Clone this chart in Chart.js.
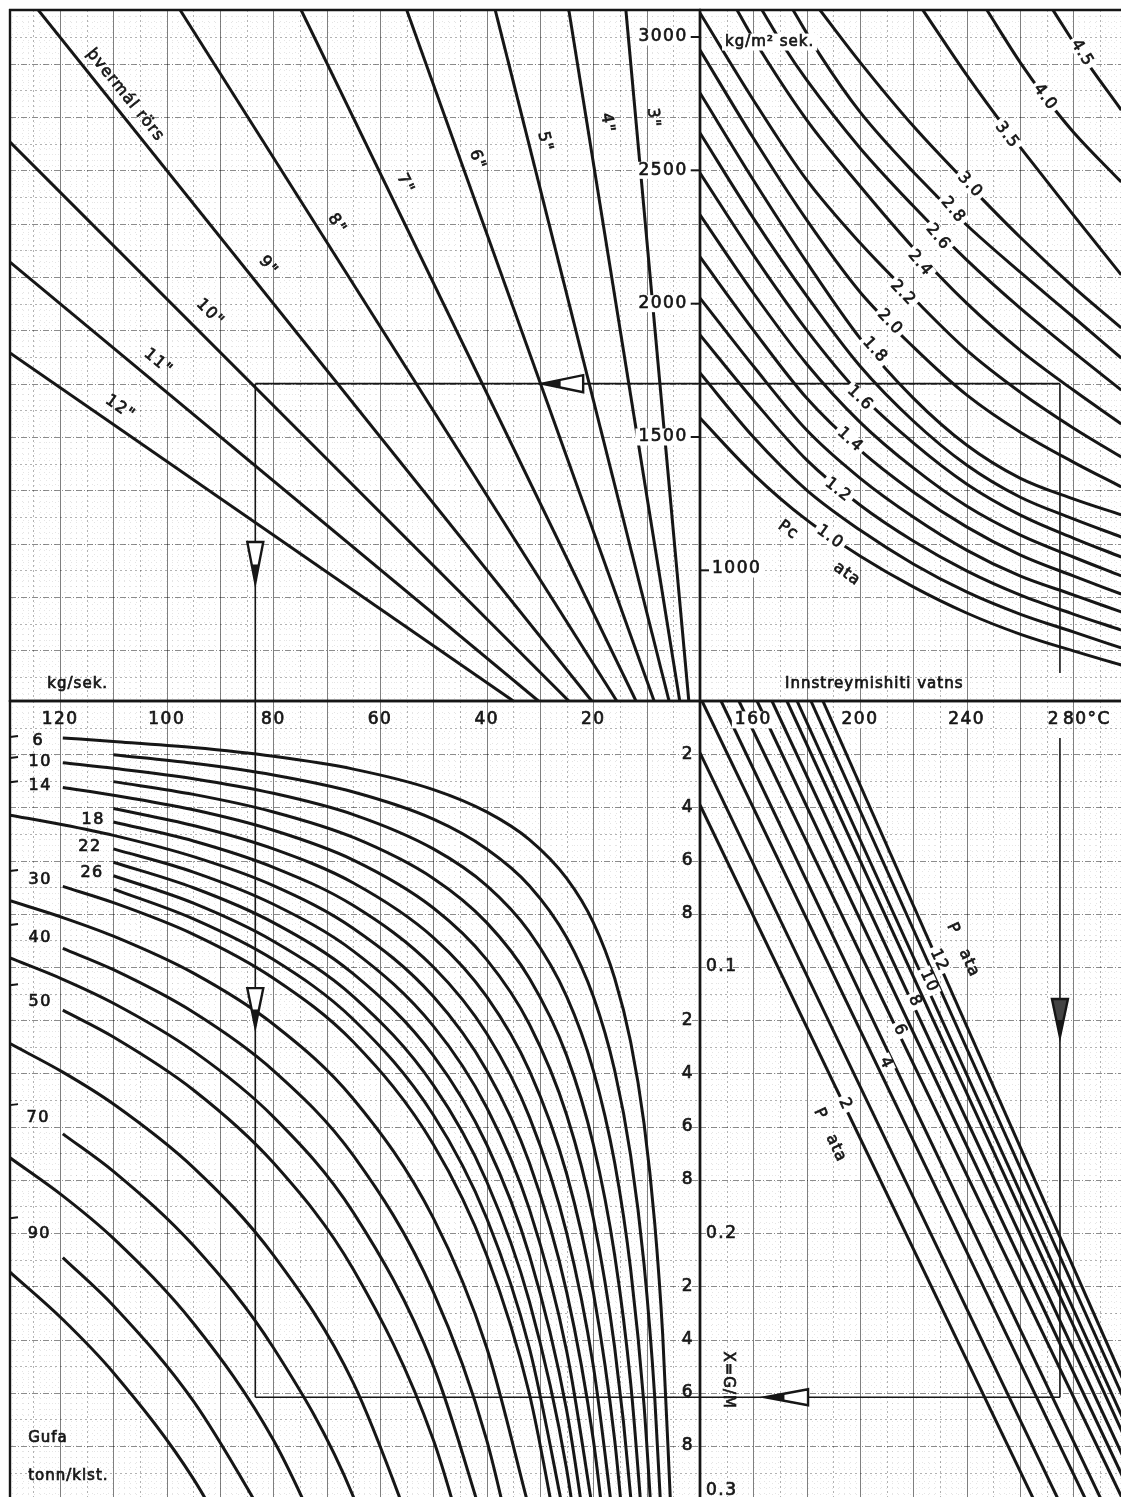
<!DOCTYPE html>
<html lang="is">
<head>
<meta charset="utf-8">
<title>Nomogram</title>
<script src="https://cdn.jsdelivr.net/npm/chart.js@4.4.1/dist/chart.umd.min.js"></script>
<style>
  html, body { margin: 0; padding: 0; background: #fff; overflow: hidden; }
  body { position: relative; width: 1121px; height: 1497px; }
  canvas { position: absolute; }
</style>
</head>
<body>
<canvas id="bl"></canvas>
<canvas id="br"></canvas>
<canvas id="tl"></canvas>
<canvas id="tr"></canvas>
<script>
const INK = '#161616';
const FONT = '17px "DejaVu Sans", sans-serif';
const PAD = 4;

// axis ticks
const flowTicks = [120, 100, 80, 60, 40, 20];            // kg/sek
const fluxTicks = [3000, 2500, 2000, 1500];              // kg/m2 sek, left of the axis
const fluxTickRight = 1000;
const tempTicks = [160, 200, 240];                       // °C
const fractionTicks = [0.02, 0.04, 0.06, 0.08, 0.12, 0.14, 0.16, 0.18, 0.22, 0.24, 0.26, 0.28];
const fractionMain = [0.1, 0.2, 0.3];

// top left: pipe diameter lines [kg/sek, kg/m2 sek]
const pipeSizes = ['12"', '11"', '10"', '9"', '8"', '7"', '6"', '5"', '4"', '3"'];
const pipeLines = [
  [[129.4, 1815], [35.0, 510]],
  [[129.4, 2156], [30.3, 510]],
  [[129.4, 2606], [24.6, 510]],
  [[124.1, 3101], [20.3, 510]],
  [[97.5, 3101], [15.6, 510]],
  [[74.8, 3101], [12.0, 510]],
  [[55.0, 3101], [8.6, 510]],
  [[38.4, 3101], [5.8, 510]],
  [[24.6, 3101], [3.8, 510]],
  [[13.9, 3101], [2.1, 510]],
];

// top right: Pc curves [°C, kg/m2 sek]
const pcValues = ['4.5', '4.0', '3.5', '3.0', '2.8', '2.6', '2.4', '2.2', '2.0', '1.8', '1.7', '1.6', '1.5', '1.4', '1.3', '1.2', '1.1', '1.0'];
const pcCurves = [
  [[272.4, 3101], [283.25, 2932], [298, 2726]],
  [[247.6, 3101], [260, 2906], [269.4, 2775], [280, 2644], [298, 2456]],
  [[223.6, 3101], [240, 2858], [255.1, 2651], [260, 2588], [280, 2333], [298, 2108]],
  [[185, 3101], [200, 2906], [220, 2666], [240, 2453], [260, 2250], [280, 2063], [298, 1909]],
  [[174.9, 3101], [185, 2933], [200, 2719], [220, 2494], [240, 2295], [260, 2119], [280, 1950], [298, 1796]],
  [[163.25, 3101], [171.1, 2970], [180, 2839], [200, 2584], [220, 2366], [240, 2164], [260, 1984], [280, 1819], [298, 1676]],
  [[153.9, 3101], [159.9, 2996], [180, 2689], [200, 2441], [220, 2209], [240, 2002], [260, 1826], [280, 1676], [298, 1549]],
  [[140, 3090], [160, 2764], [180, 2464], [200, 2228], [220, 2021], [240, 1826], [260, 1669], [280, 1534], [298, 1425]],
  [[140, 2951], [160, 2621], [180, 2314], [200, 2044], [220, 1838], [240, 1658], [260, 1519], [280, 1406], [298, 1313]],
  [[140, 2790], [160, 2464], [180, 2156], [200, 1871], [220, 1646], [240, 1470], [260, 1346], [280, 1268], [298, 1208]],
  [[140, 2640], [160, 2321], [180, 2029], [200, 1766], [220, 1560], [240, 1395], [260, 1275], [280, 1193], [298, 1125]],
  [[140, 2490], [160, 2183], [180, 1901], [200, 1661], [220, 1478], [240, 1324], [260, 1208], [280, 1121], [298, 1050]],
  [[140, 2333], [160, 2040], [180, 1774], [200, 1556], [220, 1384], [240, 1241], [260, 1133], [280, 1050], [298, 979]],
  [[140, 2175], [160, 1901], [180, 1646], [200, 1451], [220, 1294], [240, 1163], [260, 1058], [280, 979], [298, 911]],
  [[140, 2021], [160, 1766], [180, 1526], [200, 1346], [220, 1200], [240, 1076], [260, 979], [280, 908], [298, 844]],
  [[140, 1883], [160, 1639], [180, 1414], [200, 1245], [220, 1110], [240, 998], [260, 908], [280, 836], [298, 776]],
  [[140, 1740], [160, 1500], [180, 1301], [200, 1151], [220, 1024], [240, 919], [260, 836], [280, 769], [298, 709]],
  [[140, 1571], [160, 1361], [180, 1189], [200, 1054], [220, 938], [240, 840], [260, 761], [280, 698], [298, 645]],
];
const pcLabelled = ['4.5', '4.0', '3.5', '3.0', '2.8', '2.6', '2.4', '2.2', '2.0', '1.8', '1.6', '1.4', '1.2', '1.0'];

// bottom left: steam (tonn/klst) curves, X = G/M read at each flow of flowGrid
const steamRates = [6, 8, 10, 12, 14, 16, 18, 20, 22, 24, 26, 28, 30, 35, 40, 45, 50, 60, 70, 80, 90, 100];
const flowGrid = [129.4, 119.5, 110, 95, 80, 65, 50, 40, 32, 25, 20, 16, 13, 10.5, 8.5, 7, 5.5];
const steamFraction = [
  [null, 0.0139, 0.0152, 0.0175, 0.0208, 0.0256, 0.0333, 0.0417, 0.0521, 0.0667, 0.0833, 0.1042, 0.1282, 0.1587, 0.1961, 0.2381, 0.3030],
  [null, null, 0.0202, 0.0234, 0.0278, 0.0342, 0.0444, 0.0556, 0.0694, 0.0889, 0.1111, 0.1389, 0.1709, 0.2116, 0.2614, 0.3175],
  [null, 0.0232, 0.0253, 0.0292, 0.0347, 0.0427, 0.0556, 0.0694, 0.0868, 0.1111, 0.1389, 0.1736, 0.2137, 0.2646, 0.3268],
  [null, null, 0.0303, 0.0351, 0.0417, 0.0513, 0.0667, 0.0833, 0.1042, 0.1333, 0.1667, 0.2083, 0.2564, 0.3175],
  [null, 0.0325, 0.0354, 0.0409, 0.0486, 0.0598, 0.0778, 0.0972, 0.1215, 0.1556, 0.1944, 0.2431, 0.2991, 0.3704],
  [null, null, 0.0404, 0.0468, 0.0556, 0.0684, 0.0889, 0.1111, 0.1389, 0.1778, 0.2222, 0.2778, 0.3419],
  [null, null, 0.0455, 0.0526, 0.0625, 0.0769, 0.1000, 0.1250, 0.1563, 0.2000, 0.2500, 0.3125],
  [0.0429, 0.0465, 0.0505, 0.0585, 0.0694, 0.0855, 0.1111, 0.1389, 0.1736, 0.2222, 0.2778, 0.3472],
  [null, null, 0.0556, 0.0643, 0.0764, 0.0940, 0.1222, 0.1528, 0.1910, 0.2444, 0.3056],
  [null, null, 0.0606, 0.0702, 0.0833, 0.1026, 0.1333, 0.1667, 0.2083, 0.2667, 0.3333],
  [null, null, 0.0657, 0.0760, 0.0903, 0.1111, 0.1444, 0.1806, 0.2257, 0.2889, 0.3611],
  [null, null, 0.0707, 0.0819, 0.0972, 0.1197, 0.1556, 0.1944, 0.2431, 0.3111],
  [null, 0.0697, 0.0758, 0.0877, 0.1042, 0.1282, 0.1667, 0.2083, 0.2604, 0.3333],
  [0.0751, 0.0814, 0.0884, 0.1023, 0.1215, 0.1496, 0.1944, 0.2431, 0.3038],
  [null, 0.0930, 0.1010, 0.1170, 0.1389, 0.1709, 0.2222, 0.2778, 0.3472],
  [0.0966, 0.1046, 0.1136, 0.1316, 0.1563, 0.1923, 0.2500, 0.3125],
  [null, 0.1162, 0.1263, 0.1462, 0.1736, 0.2137, 0.2778, 0.3472],
  [0.1288, 0.1395, 0.1515, 0.1754, 0.2083, 0.2564, 0.3333],
  [null, 0.1627, 0.1768, 0.2047, 0.2431, 0.2991, 0.3889],
  [0.1717, 0.1860, 0.2020, 0.2339, 0.2778, 0.3419],
  [null, 0.2092, 0.2273, 0.2632, 0.3125],
  [0.2147, 0.2325, 0.2525, 0.2924, 0.3472],
];
const steamLabelled = ['6', '10', '14', '18', '22', '26', '30', '40', '50', '70', '90'];

// bottom right: P ata lines [°C, X]
const pressures = [2, 3, 4, 5, 6, 7, 8, 9, 10, 11, 12];
const pressureLines = [
  [[140, 0.0391], [265.1, 0.30]],
  [[140, 0.0195], [274.3, 0.30]],
  [[140.75, 0], [284.6, 0.30]],
  [[147.9, 0], [290.4, 0.30]],
  [[154.6, 0], [298.5, 0.30]],
  [[161.4, 0], [302.5, 0.30]],
  [[167.0, 0], [306.1, 0.30]],
  [[172.6, 0], [309.9, 0.30]],
  [[176.4, 0], [312.4, 0.30]],
  [[181.6, 0], [315.8, 0.30]],
  [[186.1, 0], [318.5, 0.30]],
];
const pressureLabelled = ['12', '10', '8', '6', '4', '2'];

// worked example
const exampleFlow = 83.4, exampleFlux = 1700, exampleTemp = 275, exampleFraction = 0.2617;

// ---------------------------------------------------------------------------

function line(pts, smooth) {
  return {
    data: pts.map(p => ({ x: p[0], y: p[1] })),
    showLine: true,
    borderColor: INK,
    borderWidth: 3,
    pointRadius: 0,
    tension: 0,
    cubicInterpolationMode: smooth ? 'monotone' : 'default',
    spanGaps: false,
  };
}

function rule(ctx, scale, g, vertical, a) {
  const lo = Math.min(scale.min, scale.max), hi = Math.max(scale.min, scale.max);
  const k0 = Math.ceil((lo - g.origin) / g.step - 1e-6);
  const k1 = Math.floor((hi - g.origin) / g.step + 1e-6);
  ctx.lineWidth = 1;
  for (let k = k0; k <= k1; k++) {
    const p = Math.round(scale.getPixelForValue(g.origin + k * g.step)) + 0.5;
    const m = ((k % 10) + 10) % 10;
    if (m === 0) {
      ctx.strokeStyle = vertical ? 'rgba(0,0,0,0.5)' : 'rgba(0,0,0,0.45)';
      ctx.setLineDash(vertical ? [] : [6, 2, 1, 2]);
    } else if (m === 5) {
      ctx.strokeStyle = 'rgba(0,0,0,0.3)';
      ctx.setLineDash([2, 3]);
    } else {
      ctx.strokeStyle = 'rgba(0,0,0,0.1)';
      ctx.setLineDash([1, 5]);
    }
    ctx.beginPath();
    if (vertical) { ctx.moveTo(p, a.top); ctx.lineTo(p, a.bottom); }
    else { ctx.moveTo(a.left, p); ctx.lineTo(a.right, p); }
    ctx.stroke();
  }
  ctx.setLineDash([]);
}

function paperPlugin(g) {
  return {
    id: 'paper',
    beforeDatasetsDraw(chart) {
      const { ctx, chartArea: a } = chart;
      ctx.save();
      ctx.beginPath();
      ctx.rect(a.left, a.top, a.width, a.height);
      ctx.clip();
      rule(ctx, chart.scales.x, g.x, true, a);
      rule(ctx, chart.scales.y, g.y, false, a);
      ctx.restore();
    },
  };
}

function drawArrow(ctx, px, py, ar) {
  const { len, half, dir } = ar;
  const pts = dir === 'down'
    ? [[px, py], [px - half, py - len], [px + half, py - len]]
    : [[px, py], [px + len, py - half], [px + len, py + half]];
  ctx.beginPath();
  pts.forEach((p, i) => (i ? ctx.lineTo(p[0], p[1]) : ctx.moveTo(p[0], p[1])));
  ctx.closePath();
  ctx.fillStyle = ar.dark ? '#444' : '#fff';
  ctx.fill();
  ctx.lineWidth = 2.4;
  ctx.strokeStyle = INK;
  ctx.stroke();
  const f = 0.45;
  ctx.beginPath();
  ctx.moveTo(pts[0][0], pts[0][1]);
  ctx.lineTo(pts[0][0] + (pts[1][0] - pts[0][0]) * f, pts[0][1] + (pts[1][1] - pts[0][1]) * f);
  ctx.lineTo(pts[0][0] + (pts[2][0] - pts[0][0]) * f, pts[0][1] + (pts[2][1] - pts[0][1]) * f);
  ctx.closePath();
  ctx.fillStyle = INK;
  ctx.fill();
}

function drawText(ctx, px, py, t) {
  ctx.save();
  ctx.translate(px, py);
  if (t.rot) ctx.rotate(t.rot * Math.PI / 180);
  ctx.font = t.font || FONT;
  ctx.letterSpacing = t.ls || '1.5px';
  ctx.textAlign = t.align || 'center';
  ctx.textBaseline = 'middle';
  if (t.box) {
    const w = ctx.measureText(t.text).width;
    const h = t.boxH || 17;
    const x0 = t.align === 'left' ? 0 : t.align === 'right' ? -w : -w / 2;
    ctx.fillStyle = '#fff';
    ctx.fillRect(x0 - 3, -h / 2, w + 6, h);
  }
  ctx.fillStyle = INK;
  ctx.strokeStyle = INK;
  ctx.lineWidth = 0.7;
  ctx.fillText(t.text, 0, 0);
  ctx.strokeText(t.text, 0, 0);
  ctx.restore();
}

function notesPlugin(n) {
  return {
    id: 'notes',
    afterDatasetsDraw(chart) {
      const { ctx, chartArea: a } = chart;
      const sx = chart.scales.x, sy = chart.scales.y;
      const X = v => sx.getPixelForValue(v), Y = v => sy.getPixelForValue(v);
      ctx.save();
      ctx.strokeStyle = INK;
      ctx.lineWidth = 1.6;
      (n.guides || []).forEach(g => {
        ctx.beginPath();
        ctx.moveTo(X(g[0]), Y(g[1]));
        ctx.lineTo(X(g[2]), Y(g[3]));
        ctx.stroke();
      });
      ctx.lineWidth = 2.4;
      ctx.beginPath();
      (n.edges || []).forEach(e => {
        if (e === 'top') { ctx.moveTo(a.left - 1, a.top); ctx.lineTo(a.right + 1, a.top); }
        if (e === 'bottom') { ctx.moveTo(a.left - 1, a.bottom); ctx.lineTo(a.right + 1, a.bottom); }
        if (e === 'left') { ctx.moveTo(a.left, a.top - 1); ctx.lineTo(a.left, a.bottom + 1); }
        if (e === 'right') { ctx.moveTo(a.right, a.top - 1); ctx.lineTo(a.right, a.bottom + 1); }
      });
      ctx.stroke();
      ctx.lineWidth = 2;
      (n.ticks || []).forEach(t => {
        const px = X(t.x), py = Y(t.y);
        ctx.beginPath();
        ctx.moveTo(px, py);
        ctx.lineTo(px + t.dx, py + (t.dy || 0));
        ctx.stroke();
      });
      (n.arrows || []).forEach(ar => drawArrow(ctx, X(ar.x), Y(ar.y), ar));
      (n.texts || []).forEach(t => drawText(ctx, X(t.x), Y(t.y), t));
      ctx.restore();
    },
  };
}

function quadrant(id, box, scales, datasets, paper, notes) {
  const canvas = document.getElementById(id);
  canvas.width = box[2] + 2 * PAD;
  canvas.height = box[3] + 2 * PAD;
  canvas.style.left = (box[0] - PAD) + 'px';
  canvas.style.top = (box[1] - PAD) + 'px';
  return new Chart(canvas, {
    type: 'scatter',
    data: { datasets },
    options: {
      responsive: false,
      animation: false,
      events: [],
      layout: { padding: PAD },
      plugins: { legend: { display: false }, tooltip: { enabled: false } },
      scales: {
        x: Object.assign({ type: 'linear', display: false }, scales.x),
        y: Object.assign({ type: 'linear', display: false }, scales.y),
      },
    },
    plugins: [paperPlugin(paper), notesPlugin(notes)],
  });
}

// label placement (annotation positions, in axis units)
const pipeLabelAt = [[108.75, 1609, 35], [101.6, 1781, 40], [91.9, 1965, 45], [81, 2141, 51], [68.1, 2299, 57],
  [55.3, 2449, 64], [41.8, 2539, 70], [29.1, 2606, 76], [17.4, 2677, 81], [8.8, 2696, 85]];
const pcLabelAt = [[283.25, 2940, 58], [269.4, 2775, 53], [255.1, 2632, 53], [241.25, 2445, 47], [234.9, 2351, 50],
  [229.25, 2250, 50], [222.5, 2152, 50], [216.1, 2040, 46], [211.25, 1931, 46], [205.6, 1826, 48],
  [200, 1646, 44], [196.25, 1489, 42], [191.75, 1301, 38], [188.75, 1125, 36]];
const steamLabelAt = [[124.1, 0.0150], [123.75, 0.0229], [123.75, 0.0320], [113.8, 0.0447], [114.4, 0.0549],
  [114.0, 0.0647], [123.75, 0.0673], [123.75, 0.0891], [123.75, 0.1132], [124.1, 0.1568], [123.9, 0.2004]];
const steamTickAt = [0.0135, 0.0214, 0.0305, 0.0639, 0.0842, 0.1068, 0.1519, 0.1944];
const pressureLabelAt = [[229.6, 0.0974], [225.9, 0.1053], [220.6, 0.1128], [215.0, 0.1237], [209.75, 0.1361], [194.4, 0.1515]];

const fluxScale = { min: 510, max: 3101.25 };
const flowScale = { min: 0, max: 129.4, reverse: true };
const tempScale = { min: 140, max: 297.9 };
const fracScale = { min: 0, max: 0.2992, reverse: true };
const flowPaper = { origin: 0, step: 1 };
const fluxPaper = { origin: 100, step: 20 };
const tempPaper = { origin: 140, step: 2 };
const fracPaper = { origin: 0, step: 0.002 };

quadrant('tl', [10, 10, 690, 691], { x: flowScale, y: fluxScale },
  pipeLines.map(l => line(l, false)),
  { x: flowPaper, y: fluxPaper },
  {
    edges: ['top', 'left', 'right', 'bottom'],
    guides: [[exampleFlow, exampleFlux, 0, exampleFlux], [exampleFlow, exampleFlux, exampleFlow, 510]],
    arrows: [
      { x: 29.6, y: exampleFlux, dir: 'left', len: 41, half: 8.5 },
      { x: exampleFlow, y: 952.5, dir: 'down', len: 41, half: 8 },
    ],
    ticks: fluxTicks.map(v => ({ x: 0, y: v, dx: -10 })),
    texts: [
      ...fluxTicks.map(v => ({ x: 2.3, y: v, text: String(v), align: 'right', box: true })),
      ...pipeSizes.map((t, i) => ({ x: pipeLabelAt[i][0], y: pipeLabelAt[i][1], text: t, rot: pipeLabelAt[i][2], font: '16px "DejaVu Sans"' })),
      { x: 107.8, y: 2782, text: 'þvermál rörs', rot: 51, font: '16px "DejaVu Sans"', ls: '1px' },
      { x: 122.4, y: 574, text: 'kg/sek.', align: 'left', font: '15px "DejaVu Sans"', ls: '1px' },
    ],
  });

quadrant('tr', [700, 10, 421, 691], { x: tempScale, y: fluxScale },
  pcCurves.map(c => line(c, true)),
  { x: tempPaper, y: fluxPaper },
  {
    edges: ['top', 'left', 'bottom'],
    guides: [[140, exampleFlux, exampleTemp, exampleFlux], [exampleTemp, exampleFlux, exampleTemp, 615]],
    ticks: [{ x: 140, y: fluxTickRight, dx: 9 }],
    texts: [
      { x: 144.5, y: 1005, text: String(fluxTickRight), align: 'left', box: true },
      { x: 149.4, y: 2981, text: 'kg/m² sek.', align: 'left', box: true, font: '15px "DejaVu Sans"', ls: '1px' },
      { x: 171.9, y: 574, text: 'Innstreymishiti vatns', align: 'left', font: '15px "DejaVu Sans"', ls: '1px' },
      ...pcLabelled.map((t, i) => ({ x: pcLabelAt[i][0], y: pcLabelAt[i][1], text: t, rot: pcLabelAt[i][2], box: true, font: '16px "DejaVu Sans"', ls: '1px', boxH: 15 })),
      { x: 173, y: 1151, text: 'Pc', rot: 36, font: '16px "DejaVu Sans"', ls: '1px' },
      { x: 195.1, y: 986, text: 'ata', rot: 36, font: '16px "DejaVu Sans"', ls: '1px' },
    ],
  });

quadrant('bl', [10, 701, 690, 796], { x: flowScale, y: fracScale },
  steamFraction.map(row => line(flowGrid.map((m, i) => [m, row[i] === undefined ? null : row[i]]), true)),
  { x: flowPaper, y: fracPaper },
  {
    edges: ['left', 'right', 'top'],
    guides: [[exampleFlow, 0, exampleFlow, exampleFraction], [exampleFlow, exampleFraction, 0, exampleFraction]],
    arrows: [{ x: exampleFlow, y: 0.1226, dir: 'down', len: 39, half: 8 }],
    ticks: steamTickAt.map(v => ({ x: 129.4, y: v, dx: 8, dy: -1 })),
    texts: [
      ...flowTicks.map(v => ({ x: v, y: 0.0071, text: String(v) })),
      ...steamLabelled.map((t, i) => ({ x: steamLabelAt[i][0], y: steamLabelAt[i][1], text: t, font: '16px "DejaVu Sans"' })),
      ...fractionTicks.map(v => ({ x: 1.1, y: v, text: String(Math.round(v * 100) % 10), align: 'right' })),
      { x: 126, y: 0.2771, text: 'Gufa', align: 'left', font: '15px "DejaVu Sans"', ls: '1px' },
      { x: 126, y: 0.2914, text: 'tonn/klst.', align: 'left', font: '15px "DejaVu Sans"', ls: '1px' },
    ],
  });

quadrant('br', [700, 701, 421, 796], { x: tempScale, y: fracScale },
  pressureLines.map(l => line(l, false)),
  { x: tempPaper, y: fracPaper },
  {
    edges: ['left', 'top'],
    guides: [[140, exampleFraction, exampleTemp, exampleFraction], [exampleTemp, 0.0139, exampleTemp, exampleFraction]],
    arrows: [
      { x: exampleTemp, y: 0.1263, dir: 'down', len: 38, half: 8, dark: true },
      { x: 164.4, y: exampleFraction, dir: 'left', len: 43, half: 8 },
    ],
    texts: [
      ...tempTicks.map(v => ({ x: v, y: 0.0071, text: String(v), box: true })),
      { x: 272.75, y: 0.0071, text: '2' },
      { x: 276.1, y: 0.0071, text: '80°C', align: 'left' },
      ...fractionMain.map(v => ({ x: 142.25, y: v === 0.3 ? 0.2966 : v, text: String(v), align: 'left' })),
      { x: 150.5, y: 0.2553, text: 'X=G/M', rot: 90, font: '15px "DejaVu Sans"', ls: '1px' },
      ...pressureLabelled.map((t, i) => ({ x: pressureLabelAt[i][0], y: pressureLabelAt[i][1], text: t, rot: 65, box: true, font: '16px "DejaVu Sans"', ls: '1px', boxH: 14 })),
      { x: 238.6, y: 0.0936, text: 'P   ata', rot: 65, font: '16px "DejaVu Sans"', ls: '1px' },
      { x: 188.75, y: 0.1632, text: 'P   ata', rot: 65, font: '16px "DejaVu Sans"', ls: '1px' },
    ],
  });
</script>
</body>
</html>
